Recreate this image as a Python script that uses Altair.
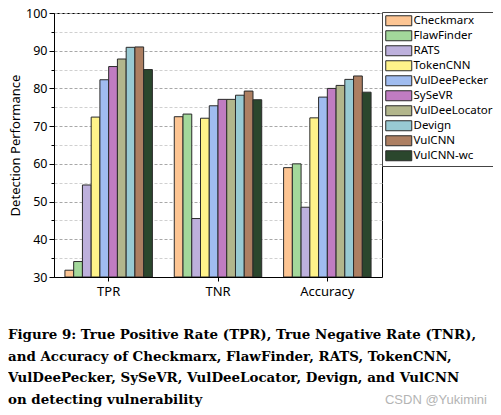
import altair as alt
import pandas as pd

models = ["Checkmarx", "FlawFinder", "RATS", "TokenCNN", "VulDeePecker",
          "SySeVR", "VulDeeLocator", "Devign", "VulCNN", "VulCNN-wc"]
metrics = ["TPR", "TNR", "Accuracy"]
tpr = [31.8, 34.1, 54.4, 72.4, 82.3, 85.8, 87.8, 90.9, 91.0, 85.0]
tnr = [72.5, 73.2, 45.5, 72.1, 75.4, 77.1, 77.1, 78.2, 79.3, 77.0]
acc = [59.0, 60.0, 48.5, 72.2, 77.7, 80.0, 80.8, 82.4, 83.3, 79.0]
colors = ["#fdc593", "#a3d89b", "#bdb0dc", "#fff38a", "#a0bcf0",
          "#c07cc2", "#b2b68c", "#98cad3", "#ad7f62", "#2b472d"]
y_ticks = [30, 35, 40, 45, 50, 55, 60, 65, 70, 75, 80, 85, 90, 95, 100]
caption_lines = [
    "Figure 9: True Positive Rate (TPR), True Negative Rate (TNR),",
    "and Accuracy of Checkmarx, FlawFinder, RATS, TokenCNN,",
    "VulDeePecker, SySeVR, VulDeeLocator, Devign, and VulCNN",
    "on detecting vulnerability",
]
watermark = "CSDN @Yukimini"

rows = []
for m, vals in zip(metrics, [tpr, tnr, acc]):
    for model, v in zip(models, vals):
        rows.append({"metric": m, "model": model, "value": v})
df = pd.DataFrame(rows)

sans = "Noto Sans"
major = "datum.value % 10 === 0"

bars = alt.Chart(df).mark_bar(stroke="#2a2a2a", strokeWidth=1).encode(
    x=alt.X("metric:N", sort=metrics,
            scale=alt.Scale(paddingInner=0.2, paddingOuter=0.1),
            axis=alt.Axis(title=None, labelAngle=0, labelFont=sans, labelFontSize=13,
                          labelColor="black", domainColor="black", tickColor="black",
                          tickSize=4, labelPadding=4, zindex=1)),
    xOffset=alt.XOffset("model:N", sort=models,
                        scale=alt.Scale(paddingInner=0, paddingOuter=0)),
    y=alt.Y("value:Q",
            scale=alt.Scale(domain=[30, 100], zero=False, nice=False),
            axis=alt.Axis(values=y_ticks,
                          labelExpr="datum.value % 10 === 0 ? datum.label : ''",
                          title="Detection Performance", titleFont=sans,
                          titleFontSize=13, titleFontWeight="normal",
                          titleColor="black", titlePadding=3,
                          labelFont=sans, labelFontSize=12.5, labelColor="black",
                          labelPadding=2,
                          domainColor="black", tickColor="black",
                          tickSize={"condition": {"test": major, "value": 5}, "value": 3},
                          grid=True, gridDash=[3, 2],
                          gridColor={"condition": {"test": major, "value": "#a8a8a8"},
                                     "value": "#d0d0d0"})),
    y2=alt.datum(30),
    color=alt.Color("model:N", sort=models,
                    scale=alt.Scale(domain=models, range=colors),
                    legend=alt.Legend(title=None, orient="none", legendX=328, legendY=-1,
                                      fillColor="white", strokeColor="#444",
                                      padding=3, labelFont=sans, labelFontSize=11.5,
                                      labelColor="black", labelOffset=9,
                                      symbolType="M-2.6,-1H2.6V1H-2.6Z", symbolSize=100,
                                      symbolOffset=8,
                                      symbolStrokeColor="#2a2a2a", symbolStrokeWidth=1,
                                      symbolOpacity=1, rowPadding=0)),
)

caption = alt.Chart(pd.DataFrame({"k": [0]})).mark_text(
    text=caption_lines, align="left", baseline="alphabetic", font="DejaVu Serif",
    fontSize=13.4, fontWeight="bold", lineHeight=21.5, color="black",
).encode(x=alt.value(-46), y=alt.value(326))

mark_wm = alt.Chart(pd.DataFrame({"k": [0]})).mark_text(
    text=watermark, align="right", baseline="middle", font="Liberation Sans",
    fontSize=13, color="#b4b4b4",
).encode(x=alt.value(433), y=alt.value(387))

chart = alt.layer(bars, caption, mark_wm).properties(
    width=328, height=264,
    autosize=alt.AutoSizeParams(type="none"),
    padding={"left": 46, "top": 5, "right": 111, "bottom": 130},
).configure_view(stroke="black", strokeWidth=1)

chart.save("out.html", embed_options={"renderer": "svg", "actions": False})
